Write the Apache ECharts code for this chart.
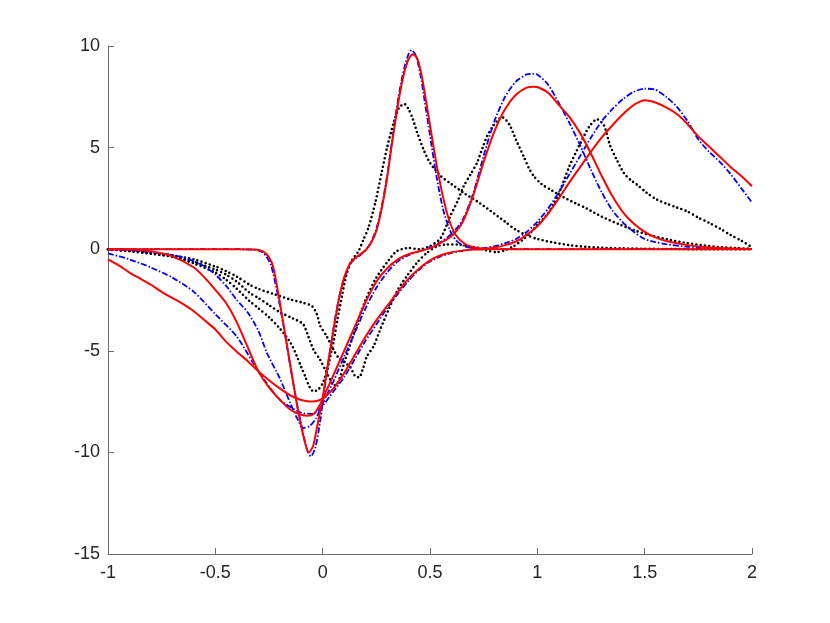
<!DOCTYPE html>
<html>
<head>
<meta charset="utf-8">
<script src="https://cdn.jsdelivr.net/npm/echarts@6/dist/echarts.min.js"></script>
<style>
  html, body { margin: 0; padding: 0; background: #fff; }
  #main { width: 830px; height: 623px; }
</style>
</head>
<body>
<div id="main"></div>
<script>
// axis ticks
const xTicks = [-1, -0.5, 0, 0.5, 1, 1.5, 2]
const yTicks = [-15, -10, -5, 0, 5, 10]

// black dotted curves, [x, y]
const black1 = [[-1,0],[-0.9,-0.1],[-0.8,-0.22],[-0.7,-0.38],[-0.6,-0.7],[-0.5,-1.15],[-0.45,-1.5],[-0.4,-1.95],[-0.34,-2.56],[-0.3,-2.9],[-0.25,-3.35],[-0.2,-3.9],[-0.15,-4.6],[-0.12,-5.27],[-0.1,-5.8],[-0.08,-6.3],[-0.06,-6.8],[-0.043,-7.0],[-0.02,-6.9],[0,-6.6],[0.02,-6.0],[0.035,-5.3],[0.05,-4.6],[0.07,-3.4],[0.09,-2.3],[0.105,-1.5],[0.128,-0.7],[0.15,-0.35],[0.167,-0.1],[0.19,0.47],[0.213,1.05],[0.245,2.28],[0.276,3.83],[0.3,5.0],[0.33,6.2],[0.355,6.95],[0.38,7.15],[0.4,6.9],[0.42,6.4],[0.44,5.75],[0.47,4.9],[0.5,4.25],[0.55,3.6],[0.6,3.2],[0.66,2.75],[0.72,2.35],[0.78,1.9],[0.85,1.35],[0.9,0.95],[0.95,0.7],[1.0,0.5],[1.08,0.32],[1.15,0.2],[1.23,0.11],[1.3,0.07],[1.4,0.04],[1.5,0.02],[1.6,0.01],[1.8,0],[2,0]]
const black2 = [[-1,0],[-0.9,-0.08],[-0.8,-0.2],[-0.7,-0.36],[-0.6,-0.62],[-0.5,-1.0],[-0.45,-1.25],[-0.4,-1.6],[-0.34,-2.15],[-0.3,-2.4],[-0.25,-2.75],[-0.2,-3.1],[-0.15,-3.35],[-0.12,-3.5],[-0.09,-3.7],[-0.067,-4.29],[-0.043,-4.94],[-0.012,-5.44],[0.012,-5.93],[0.035,-6.42],[0.05,-6.7],[0.07,-6.6],[0.1,-5.6],[0.15,-4.0],[0.2,-2.5],[0.25,-1.4],[0.3,-0.65],[0.345,-0.1],[0.4,0.06],[0.45,0.0],[0.5,0.15],[0.55,0.55],[0.594,1.62],[0.63,2.4],[0.657,3.1],[0.69,3.7],[0.719,4.25],[0.745,5.0],[0.766,5.56],[0.79,6.0],[0.812,6.3],[0.835,6.5],[0.855,6.35],[0.874,6.05],[0.9,5.4],[0.936,4.57],[0.96,4.0],[0.983,3.6],[1.02,3.2],[1.061,2.93],[1.123,2.55],[1.18,2.25],[1.23,2.0],[1.3,1.6],[1.387,1.2],[1.46,0.9],[1.542,0.64],[1.62,0.45],[1.697,0.3],[1.78,0.18],[1.853,0.1],[1.93,0.05],[2,0.02]]
const black3 = [[-1,0],[-0.9,-0.06],[-0.8,-0.15],[-0.7,-0.3],[-0.6,-0.5],[-0.5,-0.85],[-0.45,-1.08],[-0.4,-1.35],[-0.34,-1.75],[-0.3,-1.95],[-0.23,-2.2],[-0.15,-2.48],[-0.09,-2.64],[-0.05,-2.8],[-0.027,-3.2],[-0.012,-3.75],[0.019,-4.29],[0.05,-4.94],[0.074,-5.35],[0.1,-5.55],[0.128,-5.8],[0.152,-6.26],[0.17,-6.3],[0.19,-5.8],[0.206,-5.27],[0.237,-4.78],[0.27,-3.9],[0.31,-2.9],[0.35,-2.0],[0.392,-1.33],[0.439,-0.67],[0.486,-0.18],[0.532,0.14],[0.58,0.23],[0.626,0.23],[0.68,0.15],[0.719,0.08],[0.76,-0.05],[0.81,-0.15],[0.85,-0.05],[0.889,0.14],[0.93,0.45],[0.967,0.8],[1.0,1.2],[1.045,1.7],[1.08,2.3],[1.11,3.0],[1.15,4.1],[1.2,5.2],[1.24,6.0],[1.278,6.4],[1.31,6.1],[1.34,5.07],[1.37,4.4],[1.403,3.75],[1.435,3.4],[1.464,3.18],[1.51,2.77],[1.557,2.44],[1.6,2.25],[1.65,2.05],[1.697,1.87],[1.75,1.55],[1.8,1.3],[1.853,1.0],[1.9,0.7],[1.95,0.42],[2,0.1]]

// blue dash-dot curves
const blue1 = [[-1,0],[-0.6,0],[-0.4,0],[-0.31,-0.03],[-0.28,-0.15],[-0.26,-0.4],[-0.24,-0.8],[-0.21,-2.2],[-0.18,-3.9],[-0.15,-5.8],[-0.12,-7.6],[-0.1,-8.6],[-0.075,-9.8],[-0.055,-10.2],[-0.035,-9.8],[-0.015,-8.7],[0.01,-6.8],[0.03,-5.3],[0.055,-3.6],[0.08,-2.2],[0.105,-1.3],[0.13,-0.7],[0.155,-0.45],[0.18,-0.25],[0.2,-0.05],[0.225,0.35],[0.25,1.0],[0.275,2.1],[0.3,3.6],[0.32,5.1],[0.34,6.6],[0.36,7.9],[0.38,8.9],[0.4,9.6],[0.415,9.8],[0.435,9.5],[0.455,8.6],[0.475,7.3],[0.5,5.6],[0.53,3.6],[0.56,2.0],[0.59,1.0],[0.62,0.45],[0.66,0.15],[0.7,0.05],[0.75,0.01],[0.8,0],[1,0],[1.5,0],[2,0]]
const blue2 = [[-1,-0.02],[-0.9,-0.05],[-0.8,-0.15],[-0.7,-0.3],[-0.65,-0.4],[-0.6,-0.6],[-0.55,-0.85],[-0.5,-1.25],[-0.45,-1.8],[-0.4,-2.5],[-0.35,-3.1],[-0.3,-4.0],[-0.26,-5.1],[-0.2,-6.35],[-0.15,-7.6],[-0.12,-8.3],[-0.09,-8.8],[-0.06,-8.7],[-0.03,-8.3],[0,-7.6],[0.05,-6.5],[0.1,-5.3],[0.15,-4.1],[0.2,-2.9],[0.25,-1.9],[0.3,-1.15],[0.35,-0.6],[0.4,-0.3],[0.45,-0.1],[0.5,0.1],[0.55,0.35],[0.6,0.75],[0.65,1.4],[0.7,2.7],[0.75,4.6],[0.8,6.3],[0.85,7.5],[0.9,8.25],[0.95,8.6],[0.98,8.63],[1.0,8.6],[1.05,8.1],[1.1,7.2],[1.15,6.2],[1.2,5.1],[1.25,3.9],[1.3,2.8],[1.35,1.9],[1.4,1.3],[1.45,0.85],[1.5,0.5],[1.55,0.35],[1.6,0.25],[1.7,0.12],[1.8,0.05],[1.9,0.02],[2,0]]
const blue3 = [[-1,-0.2],[-0.9,-0.5],[-0.8,-0.9],[-0.7,-1.4],[-0.6,-2.1],[-0.5,-3.2],[-0.4,-4.3],[-0.3,-6.0],[-0.2,-7.4],[-0.1,-8.05],[-0.05,-8.1],[0,-7.7],[0.05,-7.0],[0.1,-6.3],[0.15,-5.4],[0.2,-4.5],[0.25,-3.7],[0.3,-2.9],[0.35,-2.2],[0.4,-1.55],[0.45,-1.0],[0.5,-0.6],[0.55,-0.35],[0.6,-0.18],[0.65,-0.08],[0.7,0.0],[0.75,0.05],[0.8,0.15],[0.85,0.3],[0.9,0.5],[0.95,0.85],[1.0,1.35],[1.05,2.0],[1.1,2.8],[1.15,3.7],[1.2,4.6],[1.25,5.5],[1.3,6.3],[1.35,6.9],[1.4,7.4],[1.45,7.75],[1.5,7.9],[1.55,7.85],[1.6,7.5],[1.65,7.0],[1.7,6.3],[1.75,5.4],[1.8,4.8],[1.85,4.3],[1.9,3.7],[1.95,3.0],[2,2.3]]

// red solid curves
const red1 = [[-1,0],[-0.6,0],[-0.4,0],[-0.32,-0.02],[-0.28,-0.1],[-0.25,-0.4],[-0.23,-0.9],[-0.2,-2.6],[-0.17,-4.5],[-0.14,-6.4],[-0.11,-8.2],[-0.085,-9.4],[-0.065,-10.0],[-0.045,-9.7],[-0.025,-8.7],[0,-7.3],[0.025,-5.6],[0.05,-4.0],[0.075,-2.5],[0.1,-1.4],[0.125,-0.75],[0.15,-0.45],[0.175,-0.25],[0.2,-0.05],[0.225,0.3],[0.25,0.9],[0.275,2.0],[0.3,3.5],[0.32,5.0],[0.34,6.4],[0.36,7.7],[0.38,8.7],[0.4,9.35],[0.42,9.6],[0.44,9.4],[0.46,8.6],[0.48,7.4],[0.5,6.1],[0.53,4.2],[0.56,2.6],[0.59,1.4],[0.62,0.7],[0.66,0.28],[0.7,0.1],[0.75,0.03],[0.8,0],[1,0],[1.5,0],[2,0]]
const red2 = [[-1,0],[-0.9,-0.01],[-0.8,-0.1],[-0.7,-0.35],[-0.6,-0.9],[-0.55,-1.4],[-0.5,-2.0],[-0.45,-2.65],[-0.4,-3.6],[-0.35,-4.8],[-0.3,-6.0],[-0.25,-6.8],[-0.2,-7.4],[-0.15,-7.9],[-0.1,-8.15],[-0.07,-8.2],[-0.04,-8.1],[-0.01,-7.6],[0.02,-6.9],[0.05,-6.2],[0.1,-5.0],[0.15,-3.8],[0.2,-2.6],[0.25,-1.6],[0.3,-0.95],[0.35,-0.5],[0.4,-0.25],[0.45,-0.1],[0.5,0.05],[0.55,0.31],[0.6,0.65],[0.65,1.3],[0.7,2.6],[0.75,4.3],[0.8,5.8],[0.85,6.9],[0.9,7.6],[0.95,7.95],[0.98,8.0],[1.0,7.98],[1.05,7.7],[1.1,7.1],[1.15,6.5],[1.2,5.7],[1.25,4.7],[1.3,3.6],[1.35,2.6],[1.4,1.8],[1.45,1.25],[1.5,0.85],[1.55,0.58],[1.6,0.4],[1.7,0.2],[1.8,0.08],[1.9,0.03],[2,0.01]]
const red3 = [[-1,-0.5],[-0.95,-0.8],[-0.9,-1.15],[-0.85,-1.45],[-0.8,-1.75],[-0.75,-2.1],[-0.7,-2.4],[-0.65,-2.7],[-0.6,-3.05],[-0.55,-3.5],[-0.5,-3.95],[-0.45,-4.55],[-0.4,-5.05],[-0.35,-5.5],[-0.3,-6.0],[-0.25,-6.45],[-0.2,-6.85],[-0.15,-7.2],[-0.1,-7.42],[-0.05,-7.5],[0,-7.35],[0.05,-6.85],[0.1,-6.1],[0.15,-5.2],[0.2,-4.3],[0.25,-3.5],[0.3,-2.8],[0.35,-2.1],[0.4,-1.45],[0.45,-0.95],[0.5,-0.55],[0.55,-0.3],[0.6,-0.15],[0.65,-0.07],[0.7,-0.02],[0.75,0.0],[0.8,0.08],[0.85,0.2],[0.9,0.38],[0.95,0.7],[1.0,1.13],[1.05,1.75],[1.1,2.5],[1.15,3.3],[1.2,4.05],[1.25,4.8],[1.3,5.5],[1.35,6.1],[1.4,6.65],[1.45,7.1],[1.5,7.33],[1.55,7.22],[1.6,6.98],[1.65,6.65],[1.7,6.15],[1.75,5.55],[1.8,5.05],[1.85,4.55],[1.9,4.05],[1.95,3.6],[2,3.1]]

const chart = echarts.init(document.getElementById('main'))

function blackSeries(data) {
  return {
    type: 'line', data: data, smooth: 0.25,
    showSymbol: false, silent: true,
    lineStyle: { color: '#000', width: 2.6, type: [0, 4.3], cap: 'round' }
  }
}
function blueSeries(data) {
  return {
    type: 'line', data: data, smooth: 0.25,
    showSymbol: false, silent: true,
    lineStyle: { color: '#0000ff', width: 1.8, type: [6, 2, 1.5, 2] }
  }
}
function redSeries(data) {
  return {
    type: 'line', data: data, smooth: 0.25,
    showSymbol: false, silent: true,
    lineStyle: { color: '#ff0000', width: 2 }
  }
}

const axisText = { color: '#262626', fontSize: 18, fontFamily: 'Liberation Sans, Arial, sans-serif' }

chart.setOption({
  animation: false,
  backgroundColor: '#fff',
  grid: { left: 108, right: 78, top: 46, bottom: 69 },
  xAxis: {
    type: 'value', min: xTicks[0], max: xTicks[xTicks.length - 1], interval: 0.5,
    axisLine: { show: true, onZero: false, lineStyle: { color: '#6b6b6b', width: 1 } },
    axisTick: { show: true, inside: true, length: 6, lineStyle: { color: '#6b6b6b' } },
    axisLabel: Object.assign({ margin: 10 }, axisText),
    splitLine: { show: false }
  },
  yAxis: {
    type: 'value', min: yTicks[0], max: yTicks[yTicks.length - 1], interval: 5,
    axisLine: { show: true, onZero: false, lineStyle: { color: '#6b6b6b', width: 1 } },
    axisTick: { show: true, inside: true, length: 6, lineStyle: { color: '#6b6b6b' } },
    axisLabel: Object.assign({ margin: 8 }, axisText),
    splitLine: { show: false }
  },
  series: [
    blackSeries(black1), blackSeries(black2), blackSeries(black3),
    blueSeries(blue1), blueSeries(blue2), blueSeries(blue3),
    redSeries(red1), redSeries(red2), redSeries(red3)
  ]
})
</script>
</body>
</html>
